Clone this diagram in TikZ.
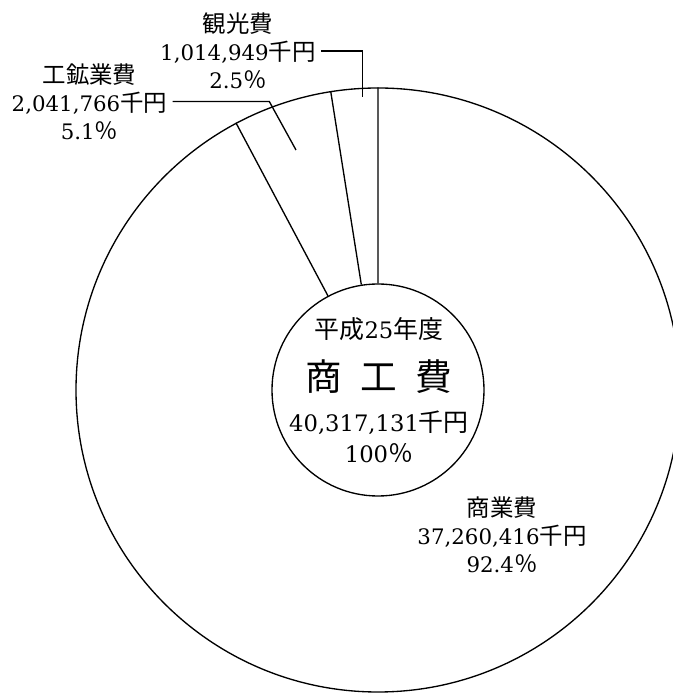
\documentclass[tikz,border=0pt]{standalone}
\usepackage{fontspec}
\setmainfont{DejaVu Serif}
\newfontfamily\jp[Scale=1.1]{Noto Sans CJK JP}
\usetikzlibrary{positioning}
\tikzset{
x=0.75pt, y=0.75pt, % one unit is one pixel of the original chart
ring/.style={circle, draw, line width=1pt, inner sep=0pt}, % the two circles of the donut
divider/.style={line width=1pt}, % borders between the slices
amount/.style={align=center, inner sep=3.75pt, font=\fontsize{16}{21}\selectfont}, % name, sum and share
leader/.style={line width=1pt}, % lines from the labels into the slices
}

\begin{document}
\begin{tikzpicture}
\useasboundingbox (0,0) rectangle (673,693);

            \node[ring, minimum size=453pt] (outer) at (378,303) {};
            \node[ring, minimum size=159pt] (total) at (378,303) {};
            \draw[divider]   (total.90) -- (outer.90)
                    (total.99) -- (outer.99)
                    (total.118) -- (outer.118);

            % centre
            \node[font=\fontsize{17}{21}\selectfont] (year) at (379,364) {{\jp 平成}25{\jp 年度}};
            \node[below of=year, node distance=36pt, font=\fontsize{25}{30}\selectfont] (title) {{\jp 商\hspace{0.5em}工\hspace{0.5em}費}};
            \node[below of=title, node distance=34.5pt, font=\fontsize{17}{21}\selectfont] (sum) {40,317,131{\jp 千円}};
            \node[below of=sum, node distance=22.5pt, font=\fontsize{17}{21}\selectfont] (share) {100{\jp ％}};

            % labels
            \node[amount] (kanko) at (238,642) {{\jp 観光費}\\1,014,949{\jp 千円}\\2.5{\jp ％}};
            \node[amount] (koko) at (89.5,591.5) {{\jp 工鉱業費}\\2,041,766{\jp 千円}\\5.1{\jp ％}};
            \node[amount] (shogyo) at (502,158) {{\jp 商業費}\\37,260,416{\jp 千円}\\92.4{\jp ％}};

            \coordinate (kankoend) at (362.7,596);
            \coordinate (kokobend) at (269.3,592);
            \coordinate (kokoend) at (296,543);
            \draw[leader] (kanko.east) -| (kankoend);
            \draw[leader] (koko.east) -- (koko.east -| kokobend) -- (kokoend);
        \end{tikzpicture}
\end{document}
